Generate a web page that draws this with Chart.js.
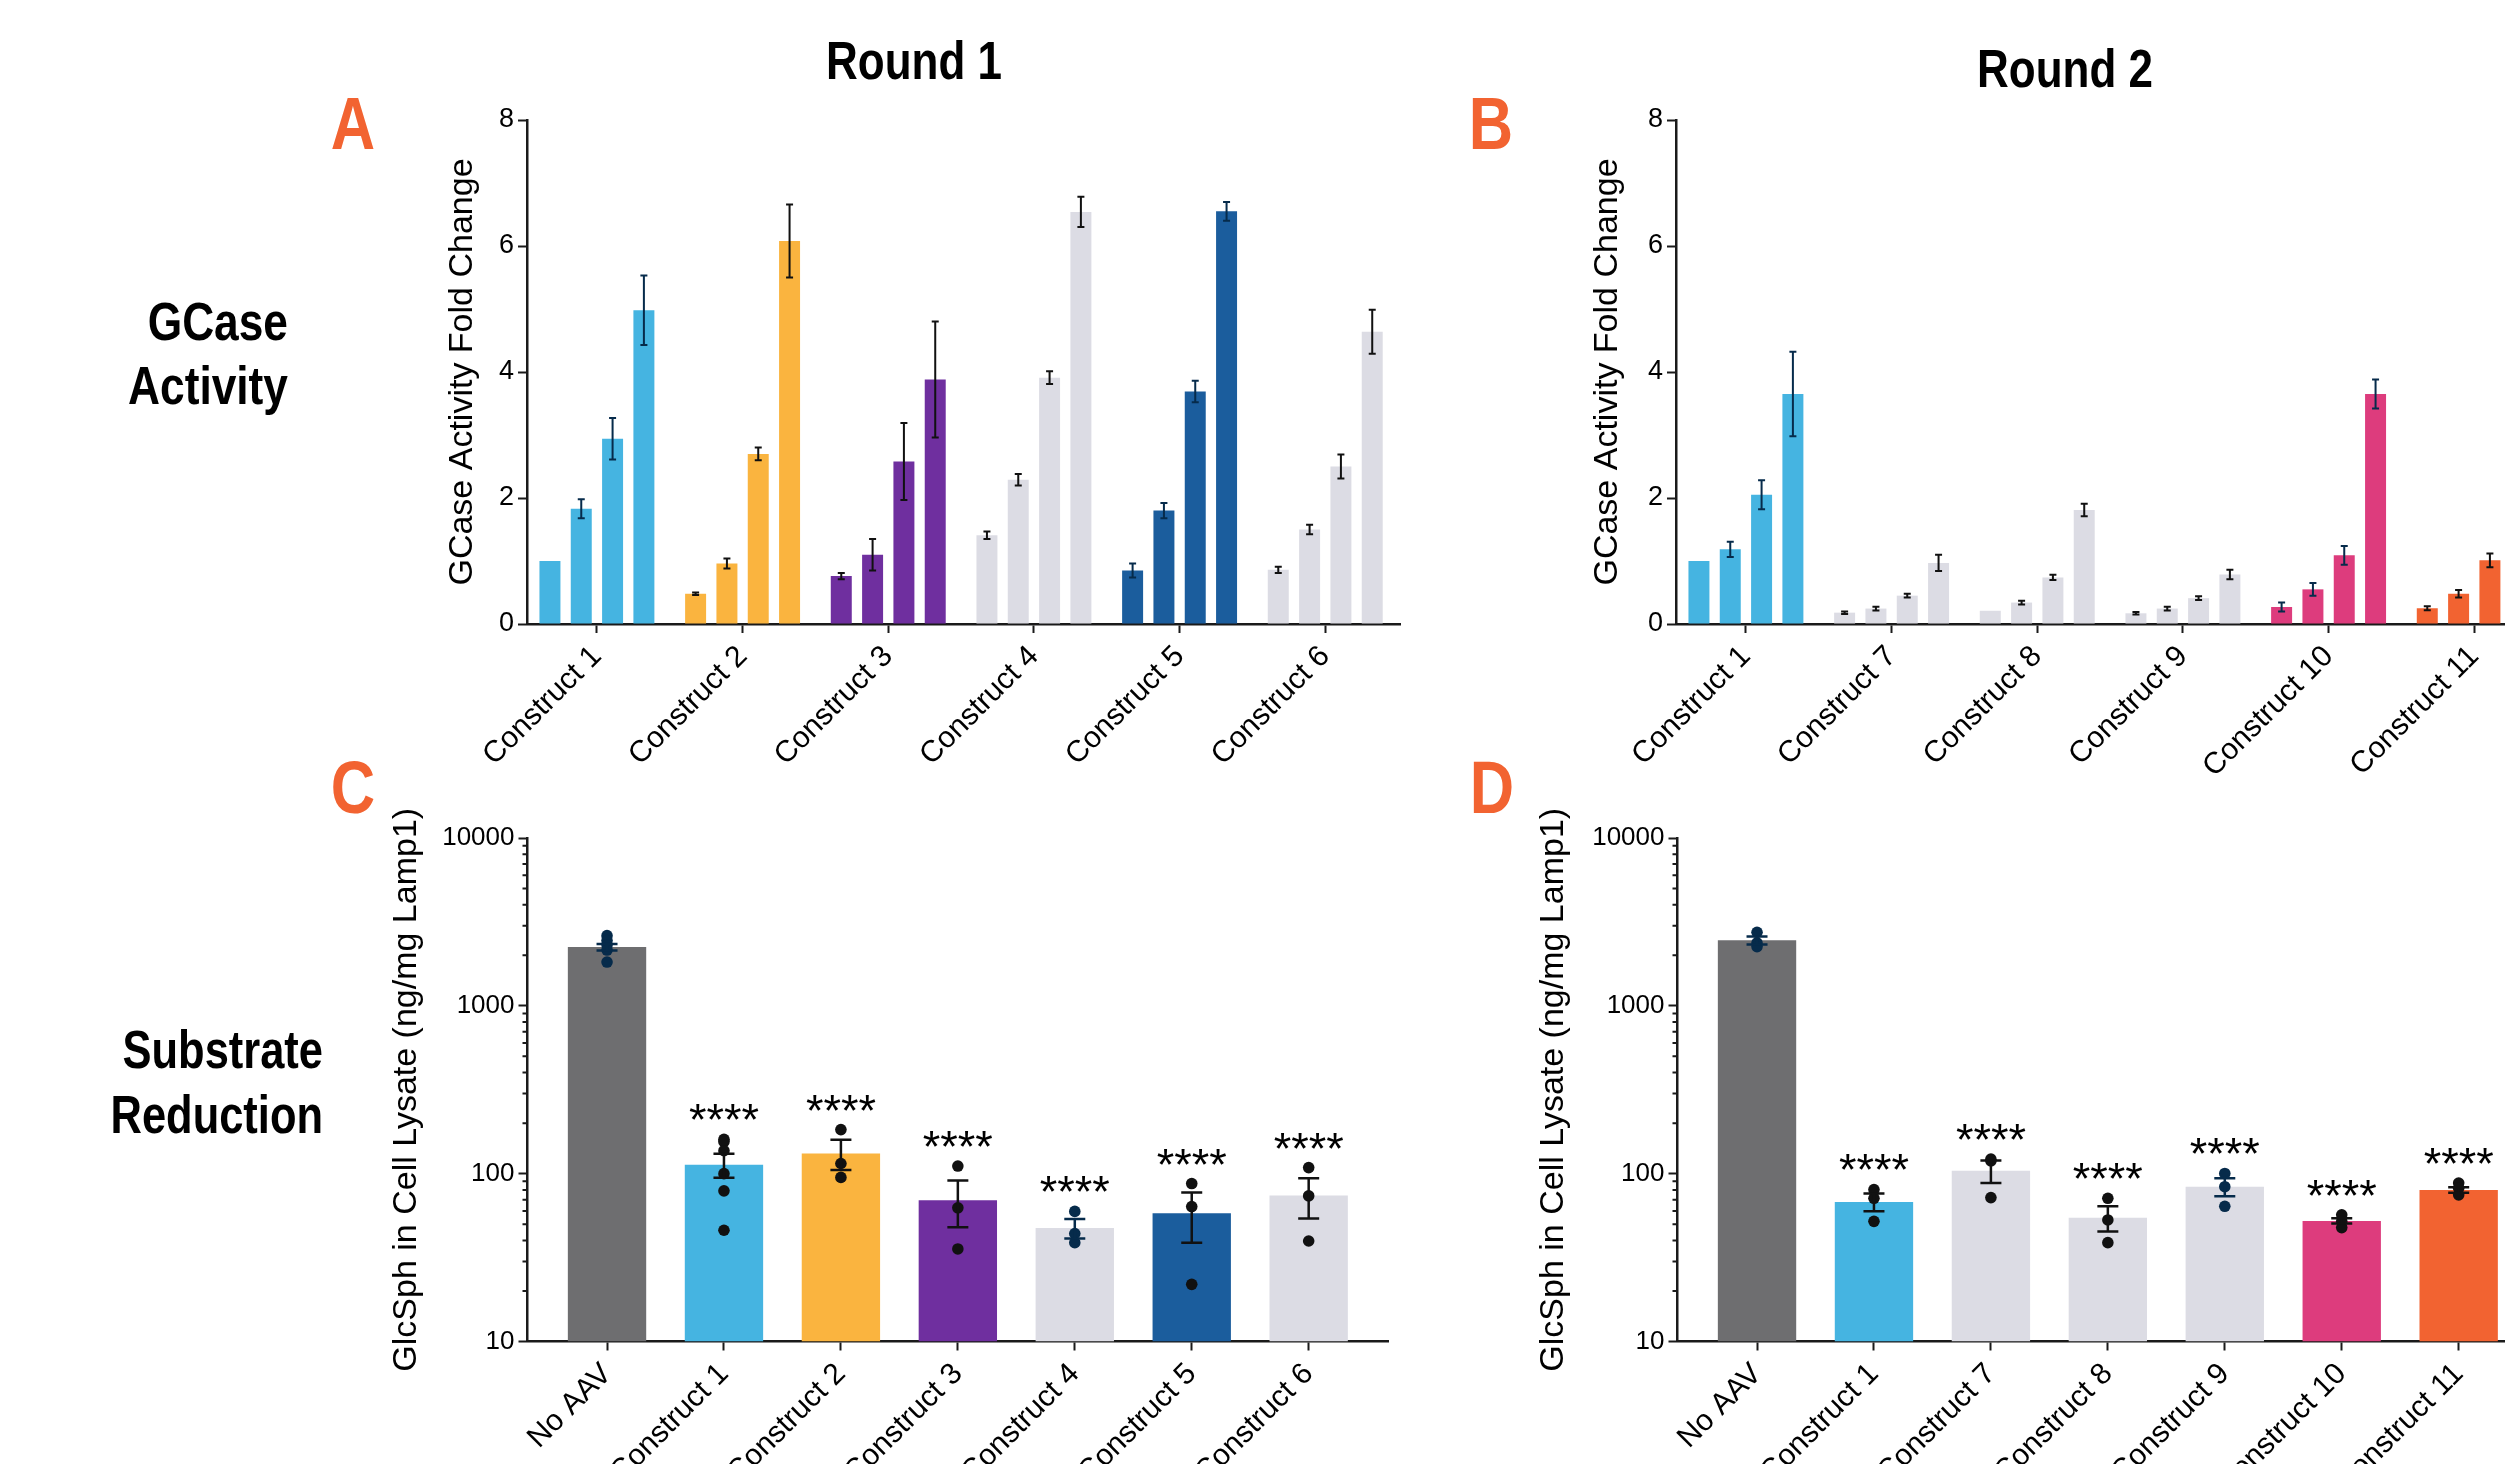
<!DOCTYPE html>
<html><head><meta charset="utf-8">
<script src="https://cdn.jsdelivr.net/npm/chart.js@4.4.1/dist/chart.umd.min.js"></script>
<style>
html,body{margin:0;padding:0;background:#fff;overflow:hidden}
#wrap{position:relative;width:2505px;height:1464px;overflow:hidden;background:#fff}
canvas{position:absolute}
.t{position:absolute;line-height:1;white-space:nowrap;font-family:'Liberation Sans',Arial,sans-serif;font-weight:bold;color:#000}
.c{text-align:center;transform:scaleX(0.83);transform-origin:50% 50%}
.r{text-align:right;transform:scaleX(0.82);transform-origin:100% 50%}
.o{color:#F26331}
</style></head><body>
<div id="wrap">
  <div class="t c" style="left:614px;top:34px;width:600px;font-size:53px">Round 1</div>
  <div class="t c" style="left:1765px;top:42px;width:600px;font-size:53px">Round 2</div>
  <div class="t c o" style="left:253px;top:87px;width:200px;font-size:74px">A</div>
  <div class="t c o" style="left:1391px;top:87px;width:200px;font-size:74px">B</div>
  <div class="t c o" style="left:253px;top:751px;width:200px;font-size:74px">C</div>
  <div class="t c o" style="left:1392px;top:751px;width:200px;font-size:74px">D</div>
  <div class="t r" style="left:0;top:294px;width:288px;font-size:54px">GCase</div>
  <div class="t r" style="left:0;top:358px;width:288px;font-size:54px">Activity</div>
  <div class="t r" style="left:0;top:1023px;width:323px;font-size:53px">Substrate</div>
  <div class="t r" style="left:0;top:1088px;width:323px;font-size:53px">Reduction</div>
  <canvas id="cA" width="1021" height="700" style="left:380px;top:90px"></canvas>
  <canvas id="cB" width="1021" height="700" style="left:1529px;top:90px"></canvas>
  <canvas id="cC" width="1014" height="674" style="left:380px;top:790px"></canvas>
  <canvas id="cD" width="1014" height="674" style="left:1530px;top:790px"></canvas>
</div>
<script>
// ---------- Data ----------
const round1Labels = ['Construct 1','Construct 2','Construct 3','Construct 4','Construct 5','Construct 6'];
const round1Dose1 = [1.00, 0.48, 0.76, 1.41, 0.85, 0.86];
const round1Dose2 = [1.83, 0.96, 1.10, 2.29, 1.80, 1.50];
const round1Dose3 = [2.94, 2.70, 2.58, 3.91, 3.69, 2.50];
const round1Dose4 = [4.98, 6.08, 3.88, 6.54, 6.55, 4.64];
const round1Err1 = [0, 0.02, 0.05, 0.06, 0.11, 0.05];
const round1Err2 = [0.15, 0.08, 0.25, 0.09, 0.12, 0.075];
const round1Err3 = [0.33, 0.10, 0.61, 0.10, 0.17, 0.19];
const round1Err4 = [0.55, 0.58, 0.92, 0.24, 0.15, 0.35];

const round2Labels = ['Construct 1','Construct 7','Construct 8','Construct 9','Construct 10','Construct 11'];
const round2Dose1 = [1.00, 0.18, 0.21, 0.17, 0.27, 0.25];
const round2Dose2 = [1.185, 0.245, 0.34, 0.245, 0.55, 0.48];
const round2Dose3 = [2.05, 0.45, 0.74, 0.41, 1.09, 1.01];
const round2Dose4 = [3.65, 0.97, 1.81, 0.785, 3.65, null];
const round2Err1 = [0, 0.02, 0, 0.02, 0.07, 0.03];
const round2Err2 = [0.12, 0.03, 0.03, 0.03, 0.10, 0.06];
const round2Err3 = [0.23, 0.03, 0.04, 0.03, 0.15, 0.11];
const round2Err4 = [0.67, 0.13, 0.10, 0.075, 0.23, null];

const subCLabels = ['No AAV','Construct 1','Construct 2','Construct 3','Construct 4','Construct 5','Construct 6'];
const subCMeans = [2238, 113, 132, 69.5, 47.4, 58, 74];
const subCSem = [100, 18.5, 27, 21.6, 6.3, 19.2, 20];
const subCDots = [[2620, 2450, 2300, 2150, 1823], [160, 155, 137, 100, 79, 46], [183, 115, 95], [111, 62.6, 35.6], [59.6, 44, 38.8], [87.3, 63.7, 21.9], [108.7, 73.7, 39.7]];
const subCStars = ['', '****', '****', '****', '****', '****', '****'];

const subDLabels = ['No AAV','Construct 1','Construct 7','Construct 8','Construct 9','Construct 10','Construct 11'];
const subDMeans = [2455, 67.9, 104, 54.6, 83.6, 52.3, 80];
const subDSem = [135, 8.2, 16, 9.3, 10.3, 1.9, 3];
const subDDots = [[2742, 2370, 2254], [80.5, 71.3, 52], [122, 119, 72], [71.3, 53, 38.8], [100.3, 83.6, 63.9], [56.9, 52, 47.7], [88, 82, 74.8]];
const subDStars = ['', '****', '****', '****', '****', '****', '****'];

const linearTicks = [0, 2, 4, 6, 8];
const logTicks = [10, 100, 1000, 10000];
const logMinorTicks = [20,30,40,50,60,70,80,90,200,300,400,500,600,700,800,900,2000,3000,4000,5000,6000,7000,8000,9000];

// ---------- Styles ----------
const C_LBLUE = '#45B4E1', C_ORANGE = '#FAB43F', C_PURPLE = '#6F2F9F', C_LGRAY = '#DCDCE4',
      C_DBLUE = '#1B5D9D', C_DGRAY = '#6E6E70', C_PINK = '#DD3C7D', C_ORED = '#F26331';
const NAVY = '#062B4B', INK = '#111';
const round1Colors = [C_LBLUE, C_ORANGE, C_PURPLE, C_LGRAY, C_DBLUE, C_LGRAY];
const round1ErrColors = [NAVY, INK, INK, INK, NAVY, INK];
const round2Colors = [C_LBLUE, C_LGRAY, C_LGRAY, C_LGRAY, C_PINK, C_ORED];
const round2ErrColors = [NAVY, INK, INK, INK, NAVY, INK];
const subCColors = [C_DGRAY, C_LBLUE, C_ORANGE, C_PURPLE, C_LGRAY, C_DBLUE, C_LGRAY];
const subCInk = [NAVY, INK, INK, INK, NAVY, INK, INK];
const subDColors = [C_DGRAY, C_LBLUE, C_LGRAY, C_LGRAY, C_LGRAY, C_PINK, C_ORED];
const subDInk = [NAVY, INK, INK, INK, NAVY, INK, INK];

const SANS = "'Liberation Sans', Arial, sans-serif";
const AXIS = '#1a1a1a';

// ---------- Plugins ----------
const errorBarPlugin = {
  id: 'errorBarPlugin',
  afterDatasetsDraw(chart) {
    const ctx = chart.ctx, ys = chart.scales.y;
    chart.data.datasets.forEach((ds, di) => {
      if (!ds.errors) return;
      const meta = chart.getDatasetMeta(di);
      meta.data.forEach((el, i) => {
        const v = ds.data[i].y, e = ds.errors[i];
        if (v == null || !e) return;
        const yt = ys.getPixelForValue(v + e), yb = ys.getPixelForValue(v - e);
        const x = el.x, hw = ds.capHalf;
        ctx.save();
        ctx.strokeStyle = ds.errColors[i];
        ctx.lineWidth = ds.errWidth;
        ctx.beginPath();
        ctx.moveTo(x, yt); ctx.lineTo(x, yb);
        ctx.moveTo(x - hw, yt); ctx.lineTo(x + hw, yt);
        ctx.moveTo(x - hw, yb); ctx.lineTo(x + hw, yb);
        ctx.stroke();
        ctx.restore();
      });
    });
  }
};
const starPlugin = {
  id: 'starPlugin',
  afterDatasetsDraw(chart) {
    const ctx = chart.ctx, ys = chart.scales.y, xs = chart.scales.x;
    const ds = chart.data.datasets[0];
    if (!ds.stars) return;
    ds.stars.forEach((s, i) => {
      if (!s) return;
      const top = Math.max(...ds.dots[i]);
      const cy = ys.getPixelForValue(top) - 29;
      ctx.save();
      ctx.font = '45px ' + SANS;
      ctx.fillStyle = '#000';
      ctx.textAlign = 'center';
      ctx.textBaseline = 'alphabetic';
      ctx.fillText(s, xs.getPixelForValue(i), cy + 25);
      ctx.restore();
    });
  }
};
const minorTickPlugin = {
  id: 'minorTickPlugin',
  afterDraw(chart) {
    const ctx = chart.ctx, ys = chart.scales.y, x0 = chart.chartArea.left;
    ctx.save();
    ctx.strokeStyle = AXIS; ctx.lineWidth = 2;
    ctx.beginPath();
    logMinorTicks.forEach(v => { const y = ys.getPixelForValue(v); ctx.moveTo(x0, y); ctx.lineTo(x0 - 5, y); });
    ctx.stroke();
    ctx.restore();
  }
};

function xAxis(labels, min, max, height) {
  return {
    type: 'linear', min: min, max: max, offset: false,
    afterBuildTicks: s => { s.ticks = labels.map((_, i) => ({value: i})); },
    afterFit: s => { s.height = height; },
    ticks: { autoSkip: false, maxRotation: 45, minRotation: 45, padding: 6, color: '#000',
             font: {family: SANS, size: 30}, callback: v => labels[v] ?? '' },
    grid: { offset: false, drawOnChartArea: false, drawTicks: true, tickLength: 9, tickWidth: 2, tickColor: AXIS },
    border: { display: true, width: 2.5, color: AXIS }
  };
}

function groupedChart(id, labels, doses, errs, colors, errColors, titlePad) {
  const datasets = doses.map((vals, k) => ({
    type: 'bar',
    data: vals.map((v, i) => ({x: i, y: v})),
    errors: errs[k], errColors: errColors, capHalf: 3.5, errWidth: 2,
    backgroundColor: colors, borderWidth: 0,
    categoryPercentage: 0.86, barPercentage: 0.67
  }));
  return new Chart(document.getElementById(id), {
    type: 'bar',
    data: { datasets },
    options: {
      responsive: false, animation: false, devicePixelRatio: 1,
      layout: { padding: { left: 0, right: 0, top: 30, bottom: 0 } },
      plugins: { legend: {display: false}, tooltip: {enabled: false} },
      scales: {
        x: xAxis(labels, -0.48, 5.52, 166),
        y: {
          min: 0, max: 8,
          afterBuildTicks: s => { s.ticks = linearTicks.map(v => ({value: v})); },
          afterFit: s => { s.width = 147; },
          ticks: { padding: 4, color: '#000', font: {family: SANS, size: 27} },
          grid: { drawOnChartArea: false, drawTicks: true, tickLength: 9, tickWidth: 2, tickColor: AXIS },
          border: { display: true, width: 2.5, color: AXIS },
          title: { display: true, text: 'GCase Activity Fold Change', color: '#000',
                   font: {family: SANS, size: 34}, padding: {top: titlePad, bottom: 0} }
        }
      }
    },
    plugins: [errorBarPlugin]
  });
}

function substrateChart(id, labels, means, sem, dots, stars, colors, ink, titlePad) {
  const pts = [], ptColors = [];
  dots.forEach((arr, i) => arr.forEach(v => { pts.push({x: i, y: v}); ptColors.push(ink[i]); }));
  return new Chart(document.getElementById(id), {
    type: 'bar',
    data: { datasets: [
      { type: 'bar', order: 2, data: means.map((v, i) => ({x: i, y: v})),
        errors: sem, errColors: ink, capHalf: 10.5, errWidth: 2.5, dots: dots, stars: stars,
        backgroundColor: colors, borderWidth: 0, categoryPercentage: 1, barPercentage: 0.67 },
      { type: 'scatter', order: 1, data: pts, pointRadius: 5.8, pointBackgroundColor: ptColors,
        pointBorderWidth: 0, showLine: false }
    ]},
    options: {
      responsive: false, animation: false, devicePixelRatio: 1,
      layout: { padding: { left: 0, right: 0, top: 48, bottom: 0 } },
      plugins: { legend: {display: false}, tooltip: {enabled: false} },
      scales: {
        x: xAxis(labels, -0.68, 6.68, 122.5),
        y: {
          type: 'logarithmic', min: 10, max: 10000,
          afterBuildTicks: s => { s.ticks = logTicks.map(v => ({value: v, major: true})); },
          afterFit: s => { s.width = 147.5; },
          ticks: { padding: 4, color: '#000', font: {family: SANS, size: 26}, callback: v => String(v) },
          grid: { drawOnChartArea: false, drawTicks: true, tickLength: 9, tickWidth: 2, tickColor: AXIS },
          border: { display: true, width: 2.5, color: AXIS },
          title: { display: true, text: 'GlcSph in Cell Lysate (ng/mg Lamp1)', color: '#000',
                   font: {family: SANS, size: 34}, padding: {top: titlePad, bottom: 0} }
        }
      }
    },
    plugins: [errorBarPlugin, starPlugin, minorTickPlugin]
  });
}

groupedChart('cA', round1Labels, [round1Dose1, round1Dose2, round1Dose3, round1Dose4],
  [round1Err1, round1Err2, round1Err3, round1Err4], round1Colors, round1ErrColors, 62);
groupedChart('cB', round2Labels, [round2Dose1, round2Dose2, round2Dose3, round2Dose4],
  [round2Err1, round2Err2, round2Err3, round2Err4], round2Colors, round2ErrColors, 58);
substrateChart('cC', subCLabels, subCMeans, subCSem, subCDots, subCStars, subCColors, subCInk, 6);
substrateChart('cD', subDLabels, subDMeans, subDSem, subDDots, subDStars, subDColors, subDInk, 3);
</script>
</body></html>
